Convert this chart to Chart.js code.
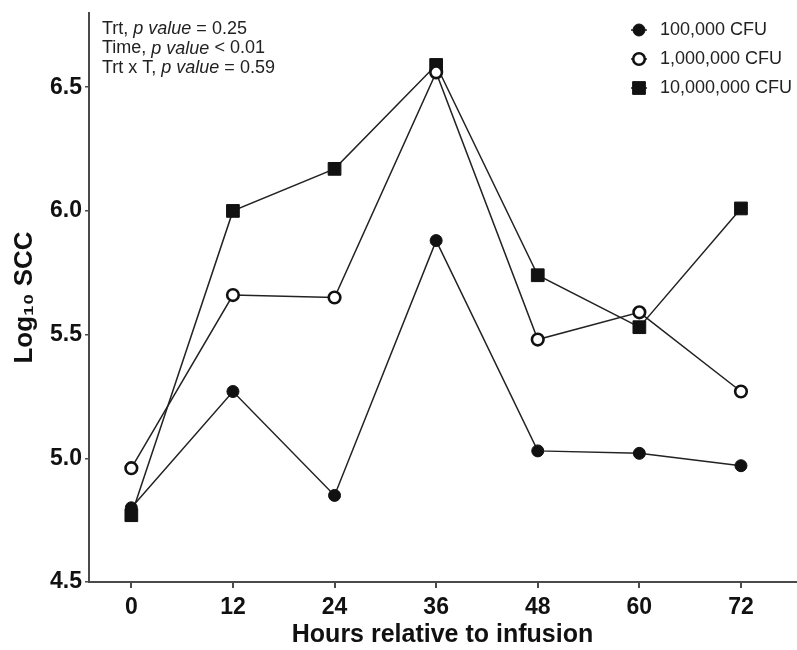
<!DOCTYPE html>
<html>
<head>
<meta charset="utf-8">
<script src="https://cdn.jsdelivr.net/npm/chart.js@4.4.1/dist/chart.umd.min.js"></script>
<style>
  html, body { margin: 0; padding: 0; background: #fff; overflow: hidden; }
  #wrap { width: 797px; height: 650px; }
  canvas { display: block; }
</style>
</head>
<body>
<div id="wrap"><canvas id="chart"></canvas></div>
<script>
// values (log10 somatic cell count)
const hours = [0, 12, 24, 36, 48, 60, 72];
const yTicks = [4.5, 5.0, 5.5, 6.0, 6.5];
const cfu100k = [4.80, 5.27, 4.85, 5.88, 5.03, 5.02, 4.97];
const cfu1m = [4.96, 5.66, 5.65, 6.56, 5.48, 5.59, 5.27];
const cfu10m = [4.77, 6.00, 6.17, 6.59, 5.74, 5.53, 6.01];
const seriesLabels = ['100,000 CFU', '1,000,000 CFU', '10,000,000 CFU'];

// p value box in the top left corner
const statTerms = ['Trt', 'Time', 'Trt x T'];
const statSigns = ['=', '<', '='];
const statValues = ['0.25', '0.01', '0.59'];

const INK = '#111';
const AXIS = '#4a4a4a';
const FONT = '"Liberation Sans", Arial, Helvetica, sans-serif';

const toPoints = vals => vals.map((v, i) => ({ x: hours[i], y: v }));

const lineStyle = {
  borderColor: '#222',
  borderWidth: 1.5,
  pointBorderColor: INK,
  pointHoverRadius: 6,
  tension: 0,
};

const statsPlugin = {
  id: 'stats',
  afterDraw(chart) {
    const ctx = chart.ctx;
    ctx.save();
    ctx.fillStyle = '#222';
    ctx.textBaseline = 'middle';
    statTerms.forEach((term, i) => {
      const y = 29 + i * 19.5;
      let x = 102;
      const parts = [
        [term + ', ', 'normal'],
        ['p value', 'italic'],
        [' ' + statSigns[i] + ' ' + statValues[i], 'normal'],
      ];
      parts.forEach(([txt, style]) => {
        ctx.font = style + ' 18px ' + FONT;
        ctx.fillText(txt, x, y);
        x += ctx.measureText(txt).width;
      });
    });
    ctx.restore();
  },
};

// legend drawn by hand, stacked top right like the original
const legendPlugin = {
  id: 'sideLegend',
  afterDraw(chart) {
    const ctx = chart.ctx;
    ctx.save();
    ctx.font = '18px ' + FONT;
    ctx.textBaseline = 'middle';
    chart.data.datasets.forEach((ds, i) => {
      const y = 30 + i * 29;
      const x = 639;
      ctx.strokeStyle = '#222';
      ctx.lineWidth = 1.5;
      ctx.beginPath();
      ctx.moveTo(x - 8, y);
      ctx.lineTo(x + 8, y);
      ctx.stroke();
      ctx.fillStyle = ds.pointBackgroundColor;
      ctx.strokeStyle = INK;
      ctx.lineWidth = ds.pointBorderWidth;
      ctx.beginPath();
      if (ds.pointStyle === 'rect') {
        const s = ds.pointRadius * Math.SQRT1_2;
        ctx.rect(x - s, y - s, 2 * s, 2 * s);
      } else {
        ctx.arc(x, y, ds.pointRadius, 0, Math.PI * 2);
      }
      ctx.fill();
      ctx.stroke();
      ctx.fillStyle = '#222';
      ctx.fillText(ds.label, 660, y);
    });
    ctx.restore();
  },
};

new Chart(document.getElementById('chart'), {
  type: 'line',
  data: {
    datasets: [
      {
        ...lineStyle,
        label: seriesLabels[0],
        data: toPoints(cfu100k),
        pointStyle: 'circle',
        pointRadius: 6,
        pointBorderWidth: 1,
        pointBackgroundColor: INK,
      },
      {
        ...lineStyle,
        label: seriesLabels[1],
        data: toPoints(cfu1m),
        pointStyle: 'circle',
        pointRadius: 5.8,
        pointBorderWidth: 2.6,
        pointBackgroundColor: '#fff',
      },
      {
        ...lineStyle,
        label: seriesLabels[2],
        data: toPoints(cfu10m),
        pointStyle: 'rect',
        pointRadius: 9,
        pointBorderWidth: 1,
        pointBackgroundColor: INK,
      },
    ],
  },
  options: {
    responsive: true,
    maintainAspectRatio: false,
    animation: false,
    layout: { autoPadding: false, padding: { top: 13, right: 1, left: 0, bottom: 0 } },
    plugins: {
      legend: { display: false },
      tooltip: { enabled: false },
    },
    scales: {
      x: {
        type: 'linear',
        min: -5,
        max: 78.5,
        afterBuildTicks: scale => { scale.ticks = hours.map(v => ({ value: v })); },
        afterFit: scale => {
          scale.height = 68;
          scale.paddingLeft = 0;
          scale.paddingRight = 0;
        },
        border: { display: true, color: AXIS, width: 2 },
        grid: { drawOnChartArea: false, drawTicks: true, tickLength: 6, color: AXIS, lineWidth: 2 },
        ticks: {
          color: INK,
          padding: 6,
          maxRotation: 0,
          font: { family: FONT, size: 23, weight: 'bold' },
        },
        title: {
          display: true,
          text: 'Hours relative to infusion',
          color: INK,
          padding: { top: 0, bottom: 0 },
          font: { family: FONT, size: 25, weight: 'bold' },
        },
      },
      y: {
        min: 4.5,
        max: 6.8,
        afterBuildTicks: scale => { scale.ticks = yTicks.map(v => ({ value: v })); },
        afterFit: scale => {
          scale.width = 89;
          scale.paddingTop = 0;
          scale.paddingBottom = 0;
        },
        border: { display: true, color: AXIS, width: 2 },
        grid: { drawOnChartArea: false, drawTicks: true, tickLength: 4, color: AXIS, lineWidth: 1.5 },
        ticks: {
          color: INK,
          padding: 3,
          callback: v => v.toFixed(1),
          font: { family: FONT, size: 23, weight: 'bold' },
        },
        title: {
          display: true,
          text: 'Log₁₀ SCC',
          color: INK,
          padding: { top: 9, bottom: 0 },
          font: { family: FONT, size: 26, weight: 'bold' },
        },
      },
    },
  },
  plugins: [statsPlugin, legendPlugin],
});
</script>
</body>
</html>
